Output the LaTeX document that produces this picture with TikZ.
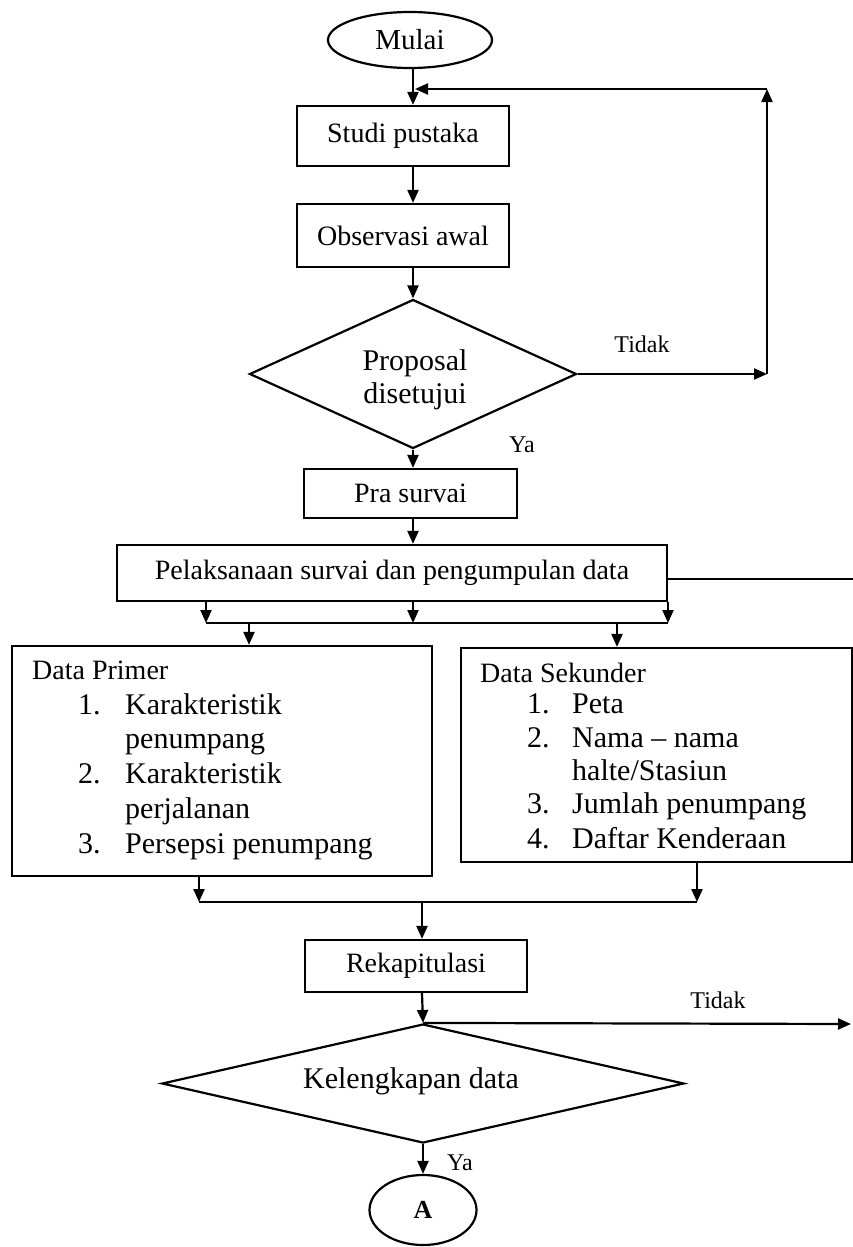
\documentclass[tikz,border=0pt]{standalone}
\usepackage{fontspec}
\setmainfont{Liberation Serif}
\usetikzlibrary{arrows.meta,shapes.geometric}
\tikzset{
  ln/.style={line width=2.2pt},
  arr/.style={ln, -{Triangle[length=13pt,width=11pt]}},
  box/.style={draw, ln, rectangle, inner sep=0pt, font=\fontsize{28}{32}\selectfont},
  dia/.style={draw, ln, diamond, inner sep=0pt},
  oval/.style={draw, ln, ellipse, inner sep=0pt},
  big/.style={inner sep=0pt, anchor=base west, font=\fontsize{30}{34}\selectfont},
  head/.style={inner sep=0pt, anchor=base west, font=\fontsize{28}{32}\selectfont},
  dtxt/.style={inner sep=0pt, anchor=base, font=\fontsize{30}{34}\selectfont},
  lab/.style={inner sep=0pt, anchor=base, font=\fontsize{24}{28}\selectfont},
}
\begin{document}
\begin{tikzpicture}[x=1pt,y=-1pt]
\useasboundingbox (0,0) rectangle (853,1247);
% column coordinates
\coordinate (ax) at (413,0);
\coordinate (bx) at (422,0);
% top part
\node[oval, minimum width=164pt, minimum height=56pt, font=\fontsize{29}{32}\selectfont] (mulai) at (410,40) {Mulai};
\node[box, minimum width=212pt, minimum height=60pt] (studi) at (403,136) {Studi pustaka};
\node[box, minimum width=212pt, minimum height=63pt] (obs) at (403,235.5) {Observasi awal};
\node[dia, minimum width=327pt, minimum height=149pt] (prop) at (413,374) {};
\node[dtxt] (prop1) at (415,370) {Proposal};
\node[dtxt] (prop2) at (415,403) {disetujui};
\node[lab] (tidak1) at (642,352) {Tidak};
\node[lab] (ya1) at (522,452) {Ya};
\node[box, minimum width=213pt, minimum height=49pt] (pra) at (410.5,493.5) {Pra survai};
\node[box, minimum width=550pt, minimum height=56pt] (pel) at (392,573) {Pelaksanaan survai dan pengumpulan data};
% loop coordinates
\coordinate (loopb) at (767,374);
\coordinate (loopt) at (767,89);
\coordinate (loopend) at (415,89);
\coordinate (pelout) at (853,579);
% split coordinates
\coordinate (s1) at (206,623);
\coordinate (s3) at (668,623);
\coordinate (d1) at (249,623);
\coordinate (d2) at (617,623);
% data boxes
\node[box, minimum width=420pt, minimum height=230pt] (primer) at (222,761) {};
\node[box, minimum width=391pt, minimum height=214pt] (sek) at (656.5,755) {};
\node[head] (ph) at (32,679) {Data Primer};
\node[big] (p1) at (78,714) {\makebox[47pt][l]{1.}Karakteristik};
\node[big] (p1b) at (125,748) {penumpang};
\node[big] (p2) at (78,783) {\makebox[47pt][l]{2.}Karakteristik};
\node[big] (p2b) at (125,818) {perjalanan};
\node[big] (p3) at (78,853) {\makebox[47pt][l]{3.}Persepsi penumpang};
\node[head] (sh) at (480,682) {Data Sekunder};
\node[big] (k1) at (527,713) {\makebox[45pt][l]{1.}Peta};
\node[big] (k2) at (527,747) {\makebox[45pt][l]{2.}Nama – nama};
\node[big] (k2b) at (572,780) {halte/Stasiun};
\node[big] (k3) at (527,813) {\makebox[45pt][l]{3.}Jumlah penumpang};
\node[big] (k4) at (527,848) {\makebox[45pt][l]{4.}Daftar Kenderaan};
% merge coordinates
\coordinate (m1) at (199,902);
\coordinate (m2) at (697,902);
% bottom part
\node[box, minimum width=222pt, minimum height=52pt] (rek) at (416,966) {Rekapitulasi};
\node[dia, minimum width=522pt, minimum height=119pt] (kel) at (423,1083.5) {};
\node[dtxt] (kelt) at (411,1088) {Kelengkapan data};
\coordinate (tout) at (851,1024);
\node[lab] (tidak2) at (718,1008) {Tidak};
\node[lab] (ya2) at (460,1170) {Ya};
\node[oval, minimum width=107pt, minimum height=70pt, font=\bfseries\fontsize{26}{30}\selectfont] (A) at (423,1210) {A};
% connectors
\draw[arr] (mulai.south -| ax) -- (studi.north -| ax);
\draw[arr] (studi.south -| ax) -- (obs.north -| ax);
\draw[arr] (obs.south -| ax) -- (prop.north);
\draw[arr] (prop.east) -- (loopb);
\draw[arr] (loopb) -- (loopt);
\draw[arr] (loopt) -- (loopend);
\draw[arr] (prop.south) -- (pra.north -| ax);
\draw[arr] (pra.south -| ax) -- (pel.north -| ax);
\draw[ln] (pel.east |- pelout) -- (pelout);
\draw[arr] (pel.south -| s1) -- (s1);
\draw[arr] (pel.south -| ax) -- (ax |- s1);
\draw[arr] (pel.south -| s3) -- (s3);
\draw[ln] (s1) -- (s3);
\draw[arr] (d1) -- (primer.north -| d1);
\draw[arr] (d2) -- (sek.north -| d2);
\draw[arr] (primer.south -| m1) -- (m1);
\draw[arr] (sek.south -| m2) -- (m2);
\draw[ln] (m1) -- (m2);
\draw[arr] (bx |- m1) -- (rek.north -| bx);
\draw[arr] (rek.south -| bx) -- (kel.north);
\draw[arr] (kel.north) -- (tout);
\draw[arr] (kel.south) -- (A.north);
\end{tikzpicture}
\end{document}
